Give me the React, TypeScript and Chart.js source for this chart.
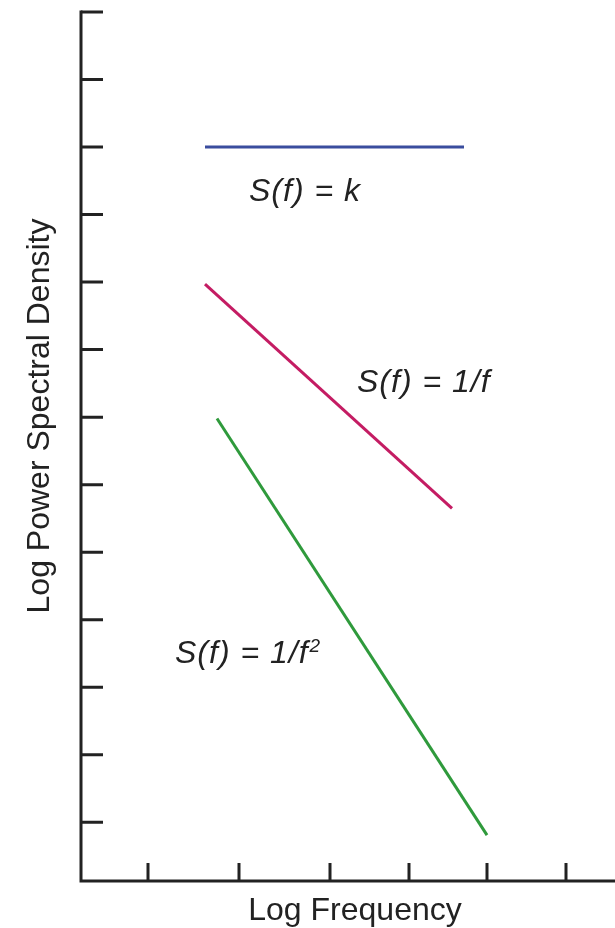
import React, { useEffect, useRef } from "react";
import { Chart, registerables } from "chart.js";

Chart.register(...registerables);

// Log-frequency axis (arbitrary log units)
const X_TICKS = [0.67, 1.58, 2.49, 3.28, 4.06, 4.85];
const X_MIN = 0;
const X_MAX = 5.34;
// Log power spectral density axis (arbitrary log units)
const Y_TICKS = [1, 2, 3, 4, 5, 6, 7, 8, 9, 10, 11, 12, 13];
const Y_MIN = 0.13;
const Y_MAX = 13;

// Series: white noise, pink noise, brown noise
const WHITE_X = [1.24, 3.83];
const WHITE_Y = [11, 11];
const PINK_X = [1.24, 3.71];
const PINK_Y = [8.97, 5.65];
const BROWN_X = [1.36, 4.06];
const BROWN_Y = [6.98, 0.81];

const SERIES_NAMES = ["S(f) = k", "S(f) = 1/f", "S(f) = 1/f²"];
const X_TITLE = "Log Frequency";
const Y_TITLE = "Log Power Spectral Density";

const toPoints = (xs: number[], ys: number[]) => xs.map((x, i) => ({ x, y: ys[i] }));

const FONT = "'Liberation Sans', Arial, Helvetica, sans-serif";
const INK = "#222222";

const axesPlugin = {
  id: "schematicAxes",
  afterDatasetsDraw(chart: any) {
    const { ctx, chartArea } = chart;
    const xs = chart.scales.x;
    const ys = chart.scales.y;
    ctx.save();
    ctx.strokeStyle = INK;
    ctx.lineWidth = 3;
    ctx.lineCap = "butt";
    // axes
    ctx.beginPath();
    ctx.moveTo(chartArea.left, chartArea.top - 1.5);
    ctx.lineTo(chartArea.left, chartArea.bottom);
    ctx.lineTo(chartArea.right, chartArea.bottom);
    ctx.stroke();
    // inward y ticks
    ctx.beginPath();
    Y_TICKS.forEach((v) => {
      const p = ys.getPixelForValue(v);
      ctx.moveTo(chartArea.left, p);
      ctx.lineTo(chartArea.left + 22, p);
    });
    // inward x ticks
    X_TICKS.forEach((v) => {
      const p = xs.getPixelForValue(v);
      ctx.moveTo(p, chartArea.bottom);
      ctx.lineTo(p, chartArea.bottom - 18);
    });
    ctx.stroke();

    // axis titles
    ctx.fillStyle = INK;
    ctx.font = `32px ${FONT}`;
    ctx.textAlign = "center";
    ctx.textBaseline = "alphabetic";
    ctx.fillText(X_TITLE, (chartArea.left + chartArea.right) / 2 + 7, chartArea.bottom + 39);
    ctx.save();
    ctx.translate(40, chartArea.top + 404);
    ctx.rotate(-Math.PI / 2);
    ctx.textBaseline = "middle";
    ctx.fillText(Y_TITLE, 0, 0);
    ctx.restore();

    // curve labels
    ctx.textAlign = "left";
    ctx.textBaseline = "alphabetic";
    if ("letterSpacing" in ctx) (ctx as any).letterSpacing = "1px";
    const anchors = [
      { x: 1.68, y: 10.2 },
      { x: 2.76, y: 7.37 },
      { x: 0.94, y: 3.36 },
    ];
    anchors.forEach((a, i) => {
      const px = xs.getPixelForValue(a.x);
      const py = ys.getPixelForValue(a.y);
      let text = SERIES_NAMES[i];
      const sup = text.endsWith("²");
      if (sup) text = text.slice(0, -1);
      ctx.font = `italic 32px ${FONT}`;
      ctx.fillText(text, px, py);
      if (sup) {
        const w = ctx.measureText(text).width;
        ctx.font = `italic 19px ${FONT}`;
        ctx.fillText("2", px + w + 1, py - 11);
      }
    });
    ctx.restore();
  },
};

export default function App() {
  const ref = useRef<HTMLCanvasElement | null>(null);
  useEffect(() => {
    if (!ref.current) return;
    const chart = new Chart(ref.current, {
      type: "line",
      data: {
        datasets: [
          { label: SERIES_NAMES[0], data: toPoints(WHITE_X, WHITE_Y), borderColor: "#3a4d9e" },
          { label: SERIES_NAMES[1], data: toPoints(PINK_X, PINK_Y), borderColor: "#c41c63" },
          { label: SERIES_NAMES[2], data: toPoints(BROWN_X, BROWN_Y), borderColor: "#2f9a3c" },
        ].map((d) => ({ ...d, borderWidth: 3, pointRadius: 0, fill: false, tension: 0 })),
      },
      options: {
        responsive: false,
        animation: false,
        events: [],
        layout: { padding: { left: 81, top: 12, right: 0, bottom: 47 } },
        plugins: { legend: { display: false }, tooltip: { enabled: false } },
        scales: {
          x: { type: "linear", display: false, min: X_MIN, max: X_MAX },
          y: { type: "linear", display: false, min: Y_MIN, max: Y_MAX },
        },
      },
      plugins: [axesPlugin],
    });
    return () => chart.destroy();
  }, []);
  return (
    <div style={{ position: "absolute", left: 0, top: 0, width: 615, height: 928, background: "#fff" }}>
      <canvas ref={ref} width={615} height={928} />
    </div>
  );
}
